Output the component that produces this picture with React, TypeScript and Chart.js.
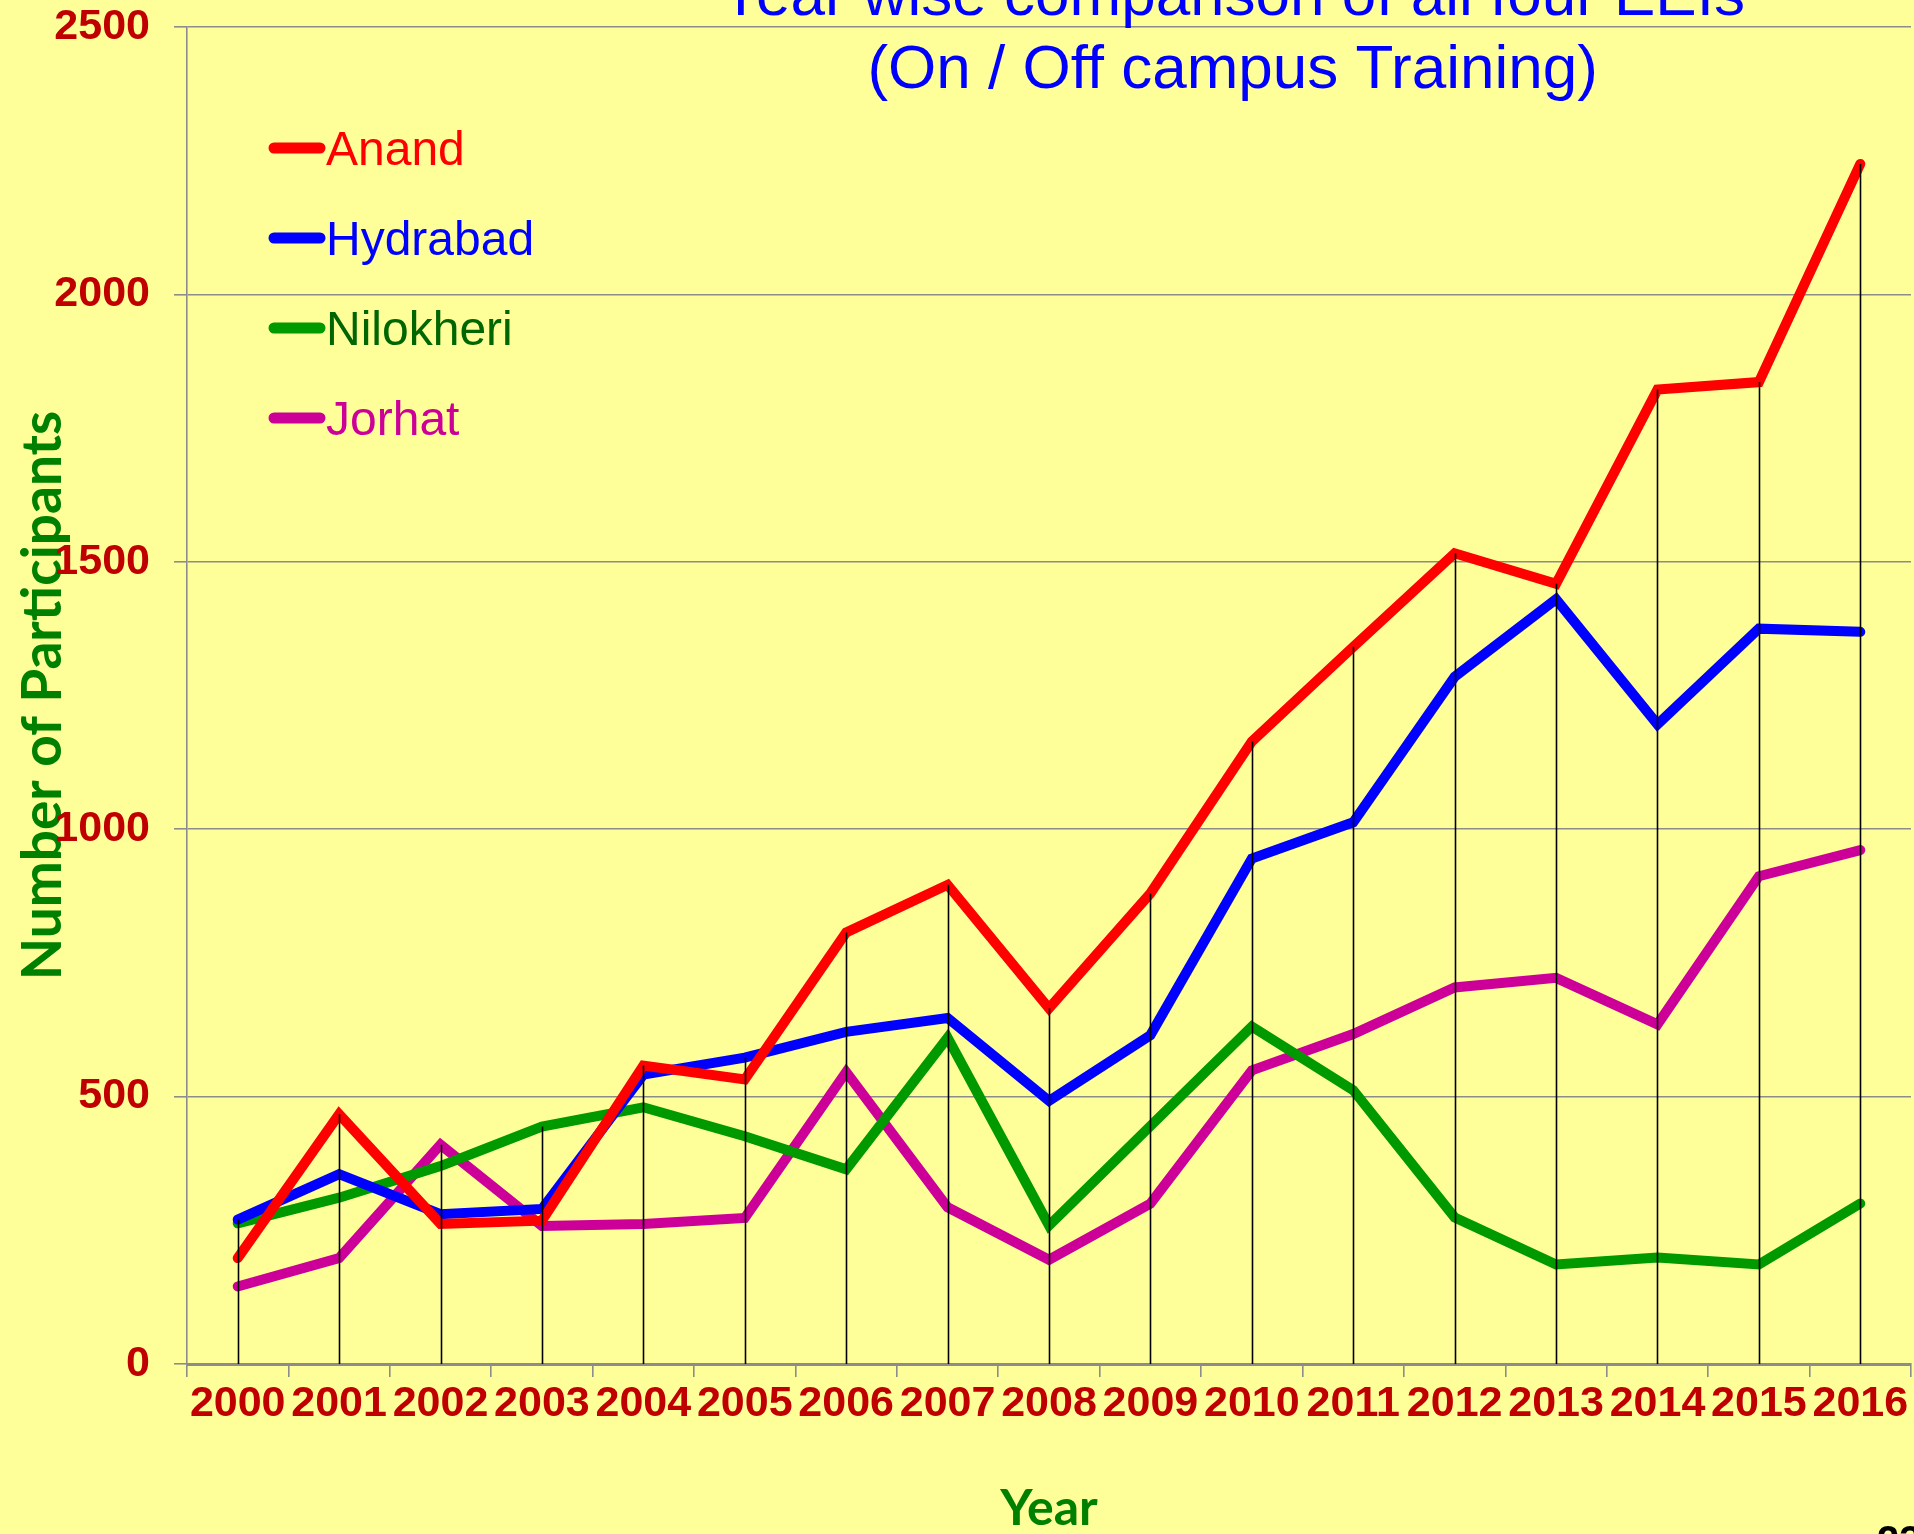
import React, { useEffect, useRef } from "react";
import { Chart, registerables } from "chart.js";

Chart.register(...registerables);

// ---- data ----
const years = ["2000", "2001", "2002", "2003", "2004", "2005", "2006", "2007", "2008", "2009", "2010", "2011", "2012", "2013", "2014", "2015", "2016"];
const anand = [198, 467, 262, 268, 558, 532, 807, 896, 665, 880, 1164, 1341, 1516, 1459, 1822, 1836, 2244];
const hydrabad = [270, 355, 280, 290, 541, 573, 621, 647, 492, 615, 945, 1013, 1285, 1430, 1196, 1375, 1369];
const nilokheri = [263, 311, 370, 444, 480, 426, 364, 610, 259, 445, 631, 512, 274, 186, 199, 186, 300];
const jorhat = [145, 198, 410, 258, 262, 273, 546, 293, 195, 300, 549, 617, 704, 722, 635, 912, 961];

const seriesNames = ["Anand", "Hydrabad", "Nilokheri", "Jorhat"];
const seriesValues = [anand, hydrabad, nilokheri, jorhat];
const lineColors = ["#FF0000", "#0000FF", "#009900", "#CC0099"];
const legendTextColors = ["#FF0000", "#0000FF", "#006600", "#CC0099"];

const yMin = 0;
const yMax = 2500;
const yStep = 500;

const titleLines = ["Year wise comparison of all four EEIs", "(On / Off campus Training)"];
const xTitle = "Year";
const yTitle = "Number of Participants";
const pageNumber = "23";

// ---- styles ----
const BG = "#FFFF99";
const TICK_COLOR = "#C00000";
const AXIS_TITLE_COLOR = "#008000";
const GRID_COLOR = "#8C8C8C";
const W = 1914;
const H = 1534;

const decorPlugin = {
  id: "decor",
  beforeDraw(chart: any) {
    const ctx = chart.ctx;
    ctx.save();
    ctx.fillStyle = BG;
    ctx.fillRect(0, 0, chart.width, chart.height);
    ctx.restore();
  },
  afterDatasetsDraw(chart: any) {
    const ctx = chart.ctx;
    const xs = chart.scales.x;
    const ys = chart.scales.y;
    ctx.save();
    ctx.strokeStyle = "#000000";
    ctx.lineWidth = 1.6;
    years.forEach((_, i) => {
      let maxV = -Infinity;
      chart.data.datasets.forEach((ds: any) => {
        const v = ds.data[i];
        if (typeof v === "number" && v > maxV) maxV = v;
      });
      const x = Math.round(xs.getPixelForValue(i)) + 0.5;
      ctx.beginPath();
      ctx.moveTo(x, ys.getPixelForValue(maxV));
      ctx.lineTo(x, ys.getPixelForValue(yMin));
      ctx.stroke();
    });
    ctx.restore();
  },
  afterDraw(chart: any) {
    const ctx = chart.ctx;
    const area = chart.chartArea;
    ctx.save();
    // title (partly cut off at top, as in reference)
    ctx.fillStyle = "#0000FF";
    ctx.font = "62px 'Liberation Sans', Arial, sans-serif";
    ctx.textAlign = "center";
    ctx.textBaseline = "alphabetic";
    const tx = chart.width * 0.644;
    ctx.fillText(titleLines[0], tx, 15);
    ctx.fillText(titleLines[1], tx, 88);

    // legend
    ctx.font = "48px 'Liberation Sans', Arial, sans-serif";
    ctx.textAlign = "left";
    chart.data.datasets.forEach((ds: any, i: number) => {
      const cy = area.top + 121 + i * 90;
      ctx.strokeStyle = ds.borderColor;
      ctx.lineWidth = 11;
      ctx.lineCap = "round";
      ctx.beginPath();
      ctx.moveTo(area.left + 87, cy);
      ctx.lineTo(area.left + 133, cy);
      ctx.stroke();
      ctx.fillStyle = legendTextColors[i];
      ctx.fillText(ds.label, area.left + 139, cy + 17);
    });

    // page number (cut off at bottom)
    ctx.fillStyle = "#000000";
    ctx.font = "bold 40px 'Liberation Sans', Arial, sans-serif";
    ctx.textAlign = "left";
    ctx.textBaseline = "top";
    ctx.fillText(pageNumber, chart.width - 37, chart.height - 11);
    ctx.restore();
  },
};

export default function App() {
  const canvasRef = useRef<HTMLCanvasElement | null>(null);

  useEffect(() => {
    document.body.style.margin = "0";
    document.body.style.background = BG;
    const canvas = canvasRef.current;
    if (!canvas) return;
    const chart = new Chart(canvas, {
      type: "line",
      data: {
        labels: years,
        datasets: seriesNames.map((name, i) => ({
          label: name,
          data: seriesValues[i],
          borderColor: lineColors[i],
          backgroundColor: lineColors[i],
          borderWidth: 10,
          borderCapStyle: "round" as const,
          borderJoinStyle: "miter" as const,
          pointRadius: 0,
          pointHoverRadius: 0,
          tension: 0,
          fill: false,
        })),
      },
      options: {
        responsive: false,
        devicePixelRatio: 1,
        animation: false,
        events: [],
        layout: { padding: { top: 27, right: 3, left: 0, bottom: 0 } },
        plugins: {
          legend: { display: false },
          title: { display: false },
          tooltip: { enabled: false },
        },
        scales: {
          x: {
            type: "category",
            offset: true,
            afterFit(scale: any) {
              scale.height = 170;
              scale.paddingLeft = 0;
              scale.paddingRight = 0;
            },
            grid: {
              display: true,
              offset: true,
              drawOnChartArea: false,
              drawTicks: true,
              tickLength: 13,
              color: GRID_COLOR,
              lineWidth: 1.6,
            },
            border: { display: true, color: GRID_COLOR, width: 3 },
            ticks: {
              color: TICK_COLOR,
              font: { family: "'Liberation Sans', Arial, sans-serif", size: 43, weight: "bold" },
              padding: 1,
              maxRotation: 0,
              minRotation: 0,
              autoSkip: false,
            },
            title: {
              display: true,
              text: xTitle,
              color: AXIS_TITLE_COLOR,
              font: { family: "Lato, sans-serif", size: 50, weight: "bold", lineHeight: 1 },
              padding: { top: 0, bottom: 0 },
            },
          },
          y: {
            type: "linear",
            min: yMin,
            max: yMax,
            afterFit(scale: any) {
              scale.width = 187;
              scale.paddingTop = 0;
              scale.paddingBottom = 0;
            },
            ticks: {
              stepSize: yStep,
              color: TICK_COLOR,
              font: { family: "'Liberation Sans', Arial, sans-serif", size: 43, weight: "bold" },
              padding: 24,
              callback: (v: any) => String(v),
            },
            grid: {
              color: GRID_COLOR,
              lineWidth: 1.6,
              drawTicks: true,
              tickLength: 13,
            },
            border: { display: true, color: GRID_COLOR, width: 1.6 },
            title: {
              display: true,
              text: yTitle,
              color: AXIS_TITLE_COLOR,
              font: { family: "Lato, sans-serif", size: 55, weight: "bold", lineHeight: 1 },
              padding: { top: 16, bottom: 0 },
            },
          },
        },
      },
      plugins: [decorPlugin],
    });
    return () => chart.destroy();
  }, []);

  return (
    <div style={{ position: "absolute", left: 0, top: 0, width: W, height: H, background: BG, overflow: "hidden" }}>
      <canvas ref={canvasRef} width={W} height={H} style={{ display: "block", width: W, height: H }} />
    </div>
  );
}
